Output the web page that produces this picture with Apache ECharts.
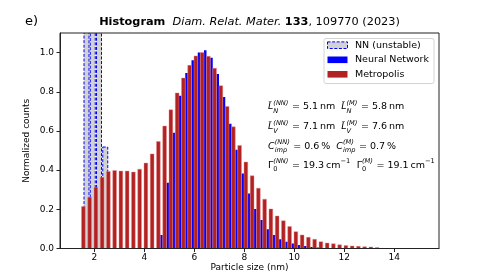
<!DOCTYPE html>
<html><head><meta charset="utf-8">
<script src="https://cdn.jsdelivr.net/npm/echarts@6/dist/echarts.min.js"></script>
<style>html,body{margin:0;padding:0;background:#fff}#c{width:488px;height:279px}</style>
</head><body><div id="c"></div>
<script>
// ---- data ----
const binCenters = [1.5,1.75,2,2.25,2.5,2.75,3,3.25,3.5,3.75,4,4.25,4.5,4.75,5,5.25,5.5,5.75,6,6.25,6.5,6.75,7,7.25,7.5,7.75,8,8.25,8.5,8.75,9,9.25,9.5,9.75,10,10.25,10.5,10.75,11,11.25,11.5,11.75,12,12.25,12.5,12.75,13,13.25,13.5,13.75,14,14.25,14.5,14.75,15];
const metropolis = [0.214,0.262,0.313,0.364,0.393,0.398,0.395,0.395,0.390,0.405,0.436,0.483,0.546,0.625,0.708,0.794,0.870,0.935,0.983,1.000,0.981,0.920,0.831,0.725,0.621,0.526,0.441,0.371,0.308,0.252,0.202,0.166,0.142,0.112,0.086,0.069,0.057,0.047,0.035,0.028,0.024,0.019,0.015,0.013,0.011,0.009,0.008,0.005,0,0,0,0,0,0,0];
const neuralNetwork = [0,0,0,0,0,0,0,0,0,0,0,0,0,0.069,0.335,0.591,0.780,0.896,0.961,1.000,1.012,0.974,0.891,0.773,0.637,0.504,0.383,0.281,0.202,0.146,0.098,0.069,0.047,0.035,0.026,0.018,0.013,0.008,0.005,0.003,0.002,0,0,0,0,0,0,0,0,0,0,0,0,0,0];
const nnUnstable = [0,2.0,2.6,1.8,0.518,0,0,0,0,0,0,0,0,0,0,0,0,0,0,0,0,0,0,0,0,0,0,0,0,0,0,0,0,0,0,0,0,0,0,0,0,0,0,0,0,0,0,0,0,0,0,0,0,0,0];
const xTicks = [2,4,6,8,10,12,14];
const yTicks = [0,0.2,0.4,0.6,0.8,1.0];
const legendNames = ['NN (unstable)','Neural Network','Metropolis'];
const statValues = [
  ['L\u0303','N','5.1\u2009nm','5.8\u2009nm'],
  ['L\u0303','V','7.1\u2009nm','7.6\u2009nm'],
  ['C','imp','0.6\u2009%','0.7\u2009%'],
  ['\u0393','0','19.3\u2009cm','19.1\u2009cm']
];

// ---- layout / style ----
const FF = '"DejaVu Sans", sans-serif';
const plotL = 60, plotR = 439, plotT = 33, plotB = 248.5;
const BLUE = '#0000ff', RED = '#b22222';

const mctx = document.createElement('canvas').getContext('2d');
function measure(t, size, fs, fw){ mctx.font = `${fs||'normal'} ${fw||'normal'} ${size}px "DejaVu Sans"`; return mctx.measureText(t).width; }
function txt(x, y, t, size, fs, fw, extra){
  return Object.assign({type:'text', x, y, z:100, silent:true,
    style:{text:t, fontSize:size, fontFamily:FF, fontStyle:fs||'normal', fontWeight:fw||'normal', fill:'#000', align:'left', verticalAlign:'middle'}}, extra||{});
}
function mathLine(x, y, tokens, size){
  const els=[]; let cx=x; const small=size*0.7;
  tokens.forEach(tk=>{
    if (tk.gap){ cx+=tk.gap; return; }
    if (tk.ss){
      let w=0;
      if (tk.sup!=null){ const s=tk.supStyle||'italic'; els.push(txt(cx, y-size*0.42, tk.sup, small, s)); w=Math.max(w, measure(tk.sup, small, s)); }
      if (tk.sub!=null){ const s=tk.subStyle||'italic'; els.push(txt(cx, y+size*0.40, tk.sub, small, s)); w=Math.max(w, measure(tk.sub, small, s)); }
      cx+=w+0.5; return;
    }
    const st = tk.it?'italic':'normal';
    els.push(txt(cx, y, tk.t, size, st)); cx+=measure(tk.t,size,st);
  });
  return els;
}

function barSeries(name, values, off0, off1, style, z, keepZero){
  return {
    type:'custom', name, clip:true, z,
    data: binCenters.map((c,i)=>[c, values[i]]),
    renderItem(params, api){
      const c = api.value(0), v = api.value(1);
      if (!keepZero && !(v > 0)) return null;
      const p0 = api.coord([c+off0, v]); const p1 = api.coord([c+off1, 0]);
      return {type:'rect', shape:{x:p0[0], y:p0[1], width:p1[0]-p0[0], height:p1[1]-p0[1]}, style:Object.assign({}, style)};
    }
  };
}
const dashStyle = {fill:'rgba(205,205,205,0.9)', stroke:BLUE, lineWidth:1, lineDash:[3,1.6]};
const blueStyle = {fill:BLUE};
const redStyle = {fill:RED, stroke:'rgba(230,140,140,0.55)', lineWidth:0.8};

// graphics: title, panel letter, axis names, legend, stats
const graphics = [];
graphics.push({type:'text', x:249.5, y:22, z:100, style:{
  text:'{b|Histogram}  {i|Diam. Relat. Mater.} {b|133}{n|, 109770 (2023)}',
  align:'center', verticalAlign:'middle',
  rich:{
    b:{fontSize:11.3, fontWeight:'bold', fontFamily:FF, fill:'#000'},
    i:{fontSize:11.3, fontStyle:'italic', fontFamily:FF, fill:'#000'},
    n:{fontSize:11.3, fontFamily:FF, fill:'#000'}
  }, fontSize:11.3, fontFamily:FF}});
graphics.push(txt(25, 22, 'e)', 13));
graphics.push({type:'text', x:249.5, y:268, z:100, style:{text:'Particle size (nm)', fontSize:9, fontFamily:FF, fill:'#000', align:'center', verticalAlign:'middle'}});
graphics.push({type:'text', x:27, y:140.75, rotation:Math.PI/2, z:100, style:{text:'Normalized counts', fontSize:9, fontFamily:FF, fill:'#000', align:'center', verticalAlign:'middle'}});
// frame on top
graphics.push({type:'rect', z:90, silent:true, shape:{x:plotL, y:plotT, width:plotR-plotL, height:plotB-plotT}, style:{fill:'none', stroke:'#222', lineWidth:1}});
// legend
graphics.push({type:'rect', z:95, shape:{x:324, y:38.5, width:110, height:45, r:2}, style:{fill:'rgba(255,255,255,0.85)', stroke:'#d4d4d4', lineWidth:1}});
const legY = [45.2, 59.8, 74.3];
const legStyles = [dashStyle, blueStyle, {fill:RED}];
legendNames.forEach((n,i)=>{
  graphics.push({type:'rect', z:96, shape:{x:327.5, y:legY[i]-3.3, width:20, height:6.6}, style:Object.assign({}, legStyles[i])});
  graphics.push(txt(355, legY[i], n, 9.5, 'normal', 'normal', {z:97}));
});
// stats
const statY = [107, 127, 146.5, 165.5];
const FS = 9.5;
statValues.forEach((r,i)=>{
  const baseIt = r[0] !== '\u0393';
  const subSt = r[1] === '0' ? 'normal' : 'italic';
  const toks = [];
  ['(NN)','(M)'].forEach((sup,k)=>{
    toks.push({t:r[0], it:baseIt});
    toks.push({ss:true, sup:sup, sub:r[1], subStyle:subSt});
    toks.push({t:' = '+r[2+k]});
    if (r[0]==='\u0393') toks.push({ss:true, sup:'\u22121', supStyle:'normal'});
    if (k===0) toks.push({gap:6});
  });
  mathLine(268, statY[i], toks, FS).forEach(e=>graphics.push(e));
});

const chart = echarts.init(document.getElementById('c'), null, {renderer:'canvas'});
chart.setOption({
  animation:false,
  backgroundColor:'#fff',
  grid:{left:plotL, top:plotT, width:plotR-plotL, height:plotB-plotT, show:false},
  xAxis:{type:'value', min:0.63, max:15.79,
    axisLine:{show:true, onZero:false, lineStyle:{color:'#222', width:1}},
    axisTick:{show:true, length:3.5, lineStyle:{color:'#222'}, customValues:xTicks},
    axisLabel:{customValues:xTicks, fontSize:9, fontFamily:FF, color:'#000', margin:5},
    splitLine:{show:false}},
  yAxis:{type:'value', min:0, max:1.1,
    axisLine:{show:true, lineStyle:{color:'#222', width:1}},
    axisTick:{show:true, length:3.5, lineStyle:{color:'#222'}, customValues:yTicks},
    axisLabel:{customValues:yTicks, fontSize:9, fontFamily:FF, color:'#000', margin:6, formatter:v=>v.toFixed(1)},
    splitLine:{show:false}},
  series:[
    barSeries(legendNames[0], nnUnstable, -0.16, 0.04, dashStyle, 2, true),
    barSeries(legendNames[1], neuralNetwork, -0.11, -0.01, blueStyle, 3, false),
    barSeries(legendNames[2], metropolis, -0.01, 0.14, redStyle, 4, false)
  ],
  graphic: graphics
});
</script></body></html>
